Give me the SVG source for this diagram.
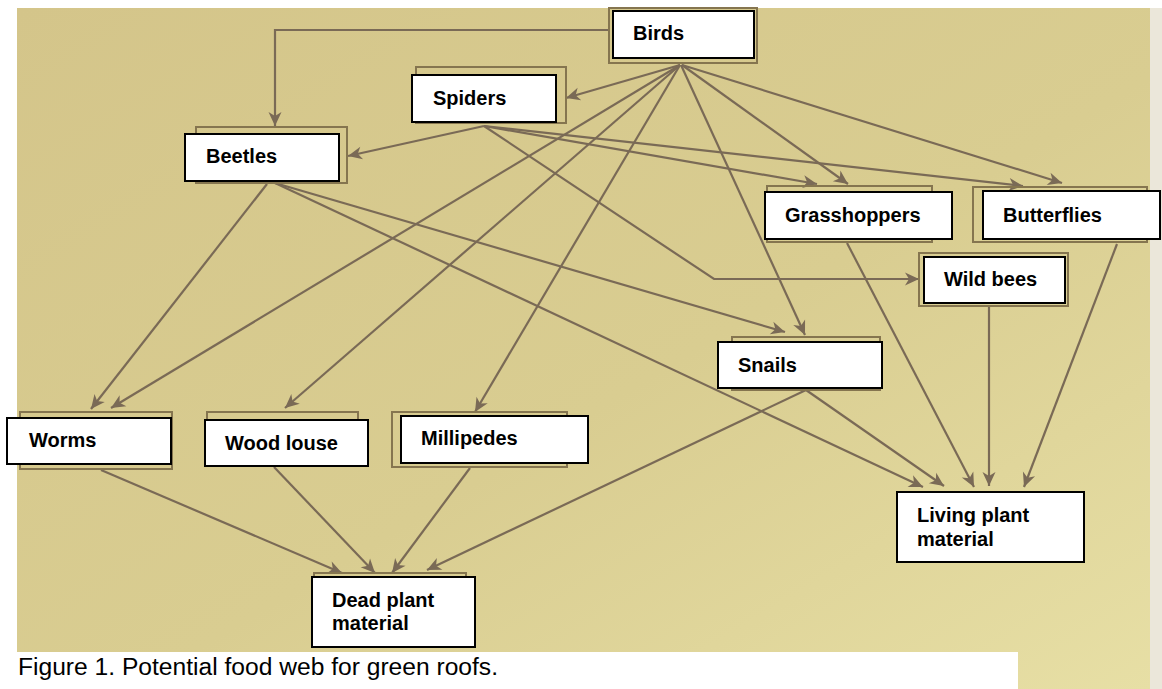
<svg xmlns="http://www.w3.org/2000/svg" width="1162" height="689" viewBox="0 0 1162 689">
  <defs>
    <linearGradient id="paper" x1="0" y1="0" x2="1" y2="1">
      <stop offset="0" stop-color="#d4c58a"/>
      <stop offset="0.55" stop-color="#d9cd91"/>
      <stop offset="1" stop-color="#e7dfa5"/>
    </linearGradient>
    <marker id="arr" viewBox="-16 -8 18 16" refX="0" refY="0" markerWidth="18" markerHeight="16" markerUnits="userSpaceOnUse" orient="auto">
      <path d="M0,0 L-14,-6.5 L-10,0 L-14,6.5 Z" fill="#7a6a56"/>
    </marker>
    <style>
      .bg { fill: url(#paper); }
      .con { fill: none; stroke: #7a6a56; stroke-width: 2.2; marker-end: url(#arr); }
      .shadow { fill: none; stroke: #85754f; stroke-width: 2; }
      .box { fill: #ffffff; stroke: #000000; stroke-width: 2; }
      .lbl { font-family: "Liberation Sans", Arial, sans-serif; font-weight: bold; font-size: 20px; fill: #000000; }
      .cap { font-family: "Liberation Sans", Arial, sans-serif; font-size: 23.5px; fill: #000000; }
    </style>
  </defs>

  <rect x="0" y="0" width="1162" height="689" fill="#ffffff"/>
  <rect class="bg" x="17" y="8" width="1135" height="681"/>
  <rect x="1150" y="8" width="12" height="681" fill="#ebe7da"/>
  <rect x="0" y="652" width="1018" height="37" fill="#ffffff"/>

  <g id="connectors">
    <polyline class="con" points="609,30 275,30 275,126"/>
    <line class="con" x1="680" y1="65" x2="566" y2="98"/>
    <line class="con" x1="680" y1="65" x2="111" y2="408"/>
    <line class="con" x1="680" y1="65" x2="285" y2="408"/>
    <line class="con" x1="680" y1="65" x2="475" y2="412"/>
    <line class="con" x1="681" y1="65" x2="805" y2="335"/>
    <line class="con" x1="682" y1="65" x2="848" y2="184"/>
    <line class="con" x1="682" y1="65" x2="1062" y2="183"/>
    <line class="con" x1="484" y1="126" x2="348" y2="156"/>
    <line class="con" x1="484" y1="126" x2="817" y2="184"/>
    <line class="con" x1="484" y1="126" x2="1023" y2="186"/>
    <polyline class="con" points="484,126 714,279 919,279"/>
    <line class="con" x1="267" y1="184" x2="91" y2="409"/>
    <line class="con" x1="275" y1="183" x2="785" y2="332"/>
    <line class="con" x1="275" y1="183" x2="923" y2="487"/>
    <line class="con" x1="847" y1="243" x2="974" y2="487"/>
    <line class="con" x1="989" y1="306" x2="989" y2="486"/>
    <line class="con" x1="1117" y1="244" x2="1024" y2="487"/>
    <line class="con" x1="806" y1="390" x2="944" y2="486"/>
    <line class="con" x1="806" y1="390" x2="427" y2="570"/>
    <line class="con" x1="101" y1="470" x2="342" y2="573"/>
    <line class="con" x1="274" y1="467" x2="375" y2="573"/>
    <line class="con" x1="470" y1="468" x2="392" y2="573"/>
  </g>

  <g id="birds">
    <rect class="shadow" x="609" y="8" width="148" height="55"/>
    <rect class="box" x="613" y="11" width="141" height="47"/>
    <text class="lbl" x="633" y="40">Birds</text>
  </g>
  <g id="spiders">
    <rect class="shadow" x="416" y="67" width="150" height="56"/>
    <rect class="box" x="412" y="75" width="144" height="47"/>
    <text class="lbl" x="433" y="105">Spiders</text>
  </g>
  <g id="beetles">
    <rect class="shadow" x="196" y="127" width="151" height="56"/>
    <rect class="box" x="185" y="134" width="154" height="47"/>
    <text class="lbl" x="206" y="163">Beetles</text>
  </g>
  <g id="grasshoppers">
    <rect class="shadow" x="767" y="186" width="165" height="56"/>
    <rect class="box" x="765" y="192" width="187" height="47"/>
    <text class="lbl" x="785" y="222">Grasshoppers</text>
  </g>
  <g id="butterflies">
    <rect class="shadow" x="973" y="187" width="174" height="55"/>
    <rect class="box" x="983" y="191" width="177" height="48"/>
    <text class="lbl" x="1003" y="222">Butterflies</text>
  </g>
  <g id="wild-bees">
    <rect class="shadow" x="919" y="253" width="149" height="53"/>
    <rect class="box" x="924" y="257" width="141" height="46"/>
    <text class="lbl" x="944" y="286">Wild bees</text>
  </g>
  <g id="snails">
    <rect class="shadow" x="732" y="337" width="148" height="53"/>
    <rect class="box" x="718" y="342" width="164" height="46"/>
    <text class="lbl" x="738" y="372">Snails</text>
  </g>
  <g id="worms">
    <rect class="shadow" x="20" y="412" width="152" height="57"/>
    <rect class="box" x="7" y="418" width="164" height="46"/>
    <text class="lbl" x="29" y="447">Worms</text>
  </g>
  <g id="wood-louse">
    <rect class="shadow" x="207" y="412" width="151" height="54"/>
    <rect class="box" x="205" y="420" width="163" height="46"/>
    <text class="lbl" x="225" y="450">Wood louse</text>
  </g>
  <g id="millipedes">
    <rect class="shadow" x="392" y="412" width="175" height="55"/>
    <rect class="box" x="401" y="416" width="187" height="47"/>
    <text class="lbl" x="421" y="445">Millipedes</text>
  </g>
  <g id="living-plant-material">
    <rect class="box" x="897" y="492" width="187" height="70"/>
    <text class="lbl" x="917" y="522">Living plant</text>
    <text class="lbl" x="917" y="546">material</text>
  </g>
  <g id="dead-plant-material">
    <rect class="shadow" x="314" y="573" width="152" height="30"/>
    <rect class="box" x="312" y="577" width="163" height="70"/>
    <text class="lbl" x="332" y="607">Dead plant</text>
    <text class="lbl" x="332" y="630">material</text>
  </g>

  <text class="cap" x="18" y="675" textLength="480" lengthAdjust="spacingAndGlyphs">Figure 1. Potential food web for green roofs.</text>
</svg>
